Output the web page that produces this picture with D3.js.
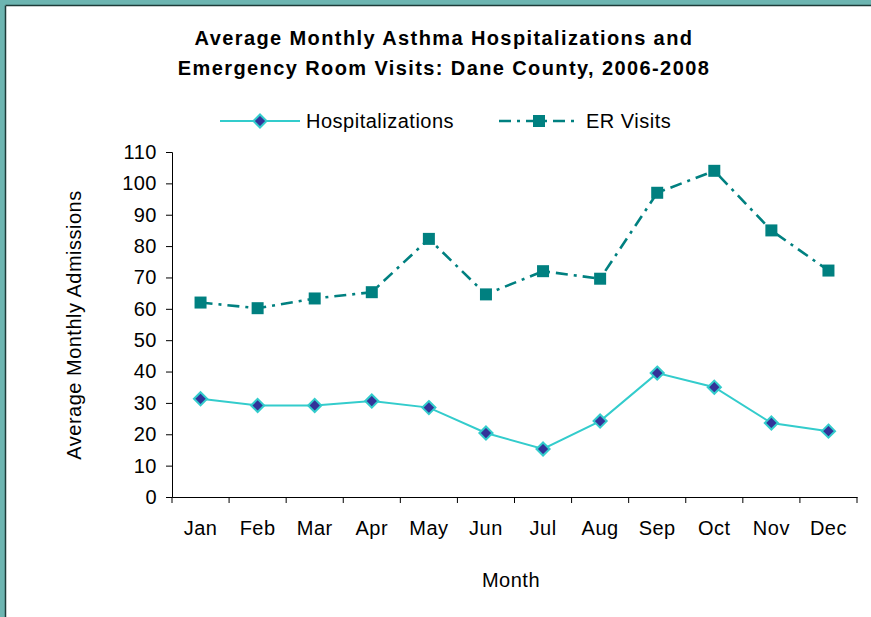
<!DOCTYPE html>
<html>
<head>
<meta charset="utf-8">
<script src="https://cdn.jsdelivr.net/npm/d3@7"></script>
<style>
  body { margin: 0; background: #fff; }
  text { font-family: "Liberation Sans", Arial, sans-serif; fill: #000; }
</style>
</head>
<body>
<div id="chart"></div>
<script>
const months = ["Jan", "Feb", "Mar", "Apr", "May", "Jun", "Jul", "Aug", "Sep", "Oct", "Nov", "Dec"];
const hospitalizations = [31.3, 29.2, 29.2, 30.6, 28.5, 20.4, 15.3, 24.2, 39.5, 35.0, 23.6, 21.0];
const erVisits = [62.0, 60.2, 63.3, 65.3, 82.3, 64.6, 72.0, 69.6, 97.0, 104.0, 85.0, 72.2];
const yTicks = [0, 10, 20, 30, 40, 50, 60, 70, 80, 90, 100, 110];

let w = 871;
let h = 617;

const svg = d3.select("#chart")
              .append("svg")
              .attr("width", w)
              .attr("height", h);

// slide frame: teal band with dark inner edge, top and left only
svg.append("rect").attr("x", 0).attr("y", 0).attr("width", w).attr("height", 5).attr("fill", "#6db5b1");
svg.append("rect").attr("x", 0).attr("y", 0).attr("width", 5).attr("height", h).attr("fill", "#6db5b1");
svg.append("line").attr("x1", 5.5).attr("x2", w).attr("y1", 5.5).attr("y2", 5.5)
   .attr("stroke", "#1e3b38").attr("stroke-width", 1.5);
svg.append("line").attr("x1", 5.5).attr("x2", 5.5).attr("y1", 5.5).attr("y2", h)
   .attr("stroke", "#1e3b38").attr("stroke-width", 1.5);

const xScale = d3.scaleBand()
                 .domain(months)
                 .range([172, 857]);

const yScale = d3.scaleLinear()
                 .domain([0, 110])
                 .range([497, 152]);

const xAxis = d3.axisBottom(xScale).tickSize(0).tickPadding(24);
const yAxis = d3.axisLeft(yScale).tickValues(yTicks).tickSize(6).tickPadding(9);

const gx = svg.append("g")
   .attr("transform", "translate(0," + 497 + ")")
   .call(xAxis);
gx.select(".domain").attr("stroke", "#000");
gx.selectAll("text").attr("font-size", 20).attr("letter-spacing", 0.5);
// category boundary ticks
gx.selectAll(".sep")
  .data(d3.range(months.length + 1))
  .enter()
  .append("line")
  .attr("x1", i => 172 + i * xScale.step())
  .attr("x2", i => 172 + i * xScale.step())
  .attr("y1", 0).attr("y2", 6)
  .attr("stroke", "#000");

const gy = svg.append("g")
   .attr("transform", "translate(172,0)")
   .call(yAxis);
gy.select(".domain").attr("stroke", "#000");
gy.selectAll("text").attr("font-size", 20).attr("letter-spacing", 0.5);

const cx = d => xScale(d) + xScale.bandwidth() / 2;

const line = d3.line()
               .x((d, i) => cx(months[i]))
               .y(d => yScale(d));

// ER visits
svg.append("path")
   .datum(erVisits)
   .attr("d", line)
   .attr("fill", "none")
   .attr("stroke", "#008080")
   .attr("stroke-width", 2.6)
   .attr("stroke-dasharray", "12,6,3,6");

svg.selectAll(".er")
   .data(erVisits)
   .enter()
   .append("rect")
   .attr("x", (d, i) => cx(months[i]) - 6)
   .attr("y", d => yScale(d) - 6)
   .attr("width", 12)
   .attr("height", 12)
   .attr("fill", "#008080");

// Hospitalizations
svg.append("path")
   .datum(hospitalizations)
   .attr("d", line)
   .attr("fill", "none")
   .attr("stroke", "#33cccc")
   .attr("stroke-width", 2);

const diamond = d3.symbol().type(d3.symbolDiamond2).size(110);
svg.selectAll(".hosp")
   .data(hospitalizations)
   .enter()
   .append("path")
   .attr("d", diamond)
   .attr("transform", (d, i) => "translate(" + cx(months[i]) + "," + yScale(d) + ")")
   .attr("fill", "#333399")
   .attr("stroke", "#33cccc")
   .attr("stroke-width", 2);

// titles
svg.append("text").attr("x", 444).attr("y", 45).attr("text-anchor", "middle")
   .attr("font-size", 20).attr("font-weight", "bold").attr("letter-spacing", 1.4)
   .text("Average Monthly Asthma Hospitalizations and");
svg.append("text").attr("x", 444).attr("y", 75).attr("text-anchor", "middle")
   .attr("font-size", 20).attr("font-weight", "bold").attr("letter-spacing", 1.4)
   .text("Emergency Room Visits: Dane County, 2006-2008");

svg.append("text").attr("x", 511).attr("y", 587).attr("text-anchor", "middle")
   .attr("font-size", 20).attr("letter-spacing", 0.5).text("Month");

svg.append("text")
   .attr("transform", "translate(81,325) rotate(-90)")
   .attr("text-anchor", "middle")
   .attr("font-size", 20).attr("letter-spacing", 0.5)
   .text("Average Monthly Admissions");

// legend
const legend = svg.append("g");
legend.append("line").attr("x1", 220).attr("x2", 300).attr("y1", 121).attr("y2", 121)
      .attr("stroke", "#33cccc").attr("stroke-width", 2);
legend.append("path").attr("d", diamond).attr("transform", "translate(260,121)")
      .attr("fill", "#333399").attr("stroke", "#33cccc").attr("stroke-width", 2);
legend.append("text").attr("x", 306).attr("y", 128).attr("font-size", 20).attr("letter-spacing", 0.5)
      .text("Hospitalizations");

legend.append("line").attr("x1", 499).attr("x2", 578).attr("y1", 121).attr("y2", 121)
      .attr("stroke", "#008080").attr("stroke-width", 2.6).attr("stroke-dasharray", "12,6,3,6");
legend.append("rect").attr("x", 533).attr("y", 115).attr("width", 12).attr("height", 12)
      .attr("fill", "#008080");
legend.append("text").attr("x", 586).attr("y", 128).attr("font-size", 20).attr("letter-spacing", 0.5)
      .text("ER Visits");
</script>
</body>
</html>
